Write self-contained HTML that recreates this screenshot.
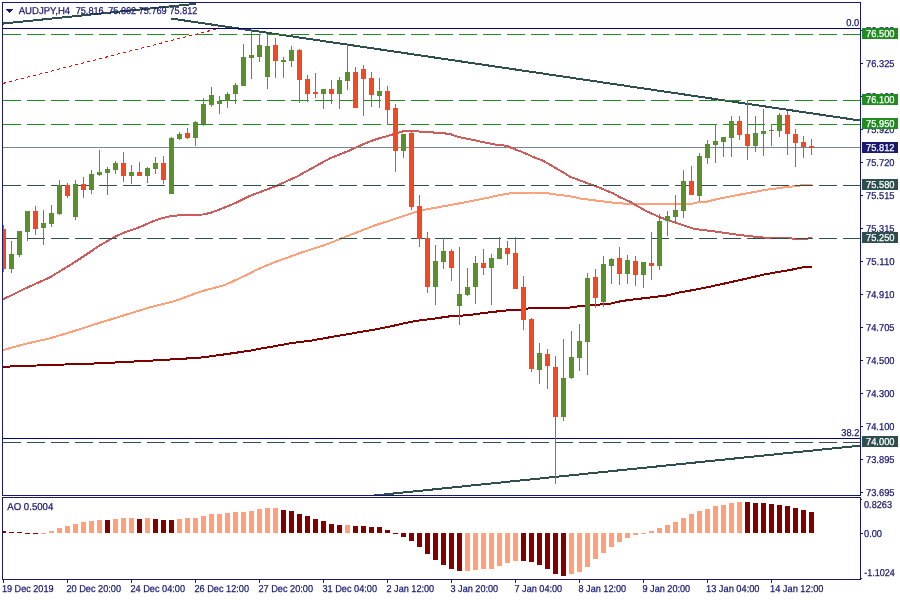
<!DOCTYPE html>
<html><head><meta charset="utf-8"><title>AUDJPY,H4</title>
<style>
html,body{margin:0;padding:0;background:#fff;overflow:hidden}
svg{display:block}
text{font-family:"Liberation Sans",sans-serif;font-size:10px;fill:#191970;stroke:#191970;stroke-width:0.25px;text-rendering:geometricPrecision}
.w{fill:#fff}
</style></head><body>
<svg width="900" height="600" viewBox="0 0 900 600">
<rect width="900" height="600" fill="#fff"/>
<defs><clipPath id="c"><rect x="3" y="3" width="857" height="492"/></clipPath><clipPath id="c2"><rect x="3" y="498" width="857" height="81"/></clipPath></defs>
<g shape-rendering="crispEdges">
<g clip-path="url(#c)">
<line x1="3" y1="147.5" x2="860" y2="147.5" stroke="#778899" stroke-width="1"/>
<polyline fill="none" stroke="#800000" stroke-width="2" stroke-linejoin="round" points="2,366.8 50,365 100,363.3 150,360.7 200,357.7 225,354.3 250,350.7 260,348.7 276.7,345.8 293.3,342.8 310,340.8 326.7,337.8 343.3,335 360,332 376.7,329.2 393.3,325.8 400,324.2 416.7,320.8 433.3,318.7 450,316.3 466.7,315.3 475,314.2 491.7,312 508.3,310.3 521.7,309.7 533.3,307.5 550,307.5 560,308 570,307.5 581.7,305.8 593.3,305 610,303.8 616.7,302 626.7,300.3 643.3,298.3 660,296.3 668.3,295.3 676.7,293 693.3,290 710,286.7 730,282.3 747,278.5 763.3,274.7 775,272.5 791.7,269.7 803.3,267.2 812,266.7"/>
<polyline fill="none" stroke="#ffa07a" stroke-width="2" stroke-linejoin="round" points="2,350.3 25,344 50,338.3 75,330.7 100,322.7 125,315 150,307.3 175,301 200,291.7 225,285 250,273.3 256.7,269.7 275,262 290,256.7 300,253 325,245 350,235 375,225.3 400,217.2 416.7,211.7 426.7,209.3 436.7,207.5 453.3,204.5 470,201.3 486.7,198 500,195 510,193.3 520,192.5 533.3,192.5 545,192.8 553.3,194.2 561.7,195.3 570,196.2 580,198.5 597,200.7 613,202.6 620,203.3 630,204 645,204.2 690,204.2 700,201.9 706.7,201.7 716.7,199.2 733.3,195.8 750,192.8 766.7,189.7 783.3,187.5 800,185.5 812,184.5"/>
<polyline fill="none" stroke="#cd5c5c" stroke-width="2" stroke-linejoin="round" points="2,299.8 25,288.6 50,277.3 75,262 100,245.3 116.7,235.8 125,232.3 140,227 150,222.5 160,218.7 170,216.2 180,215.2 190,214.7 203.3,214.5 211.7,212.5 223.3,208 236.7,202.5 250,195.8 263.3,190.8 276.7,185.8 290,179.7 296.7,176.7 313.3,167.5 330,158.3 346.7,151.7 355,148 363.3,144.2 371.7,140.8 380,138 388.3,135.8 396.7,133.3 405,130.8 413.3,130.7 420,131.7 428.3,132.2 441.7,133 450.8,134.2 458.3,137 470,139.2 483.3,142.2 495,144.5 506.7,145.8 513.3,148.7 523.3,152.5 533.3,157 543.3,160.8 553.3,166.7 563.3,172.5 570,176.7 583.3,181.7 597,186.7 613,193.3 620,197.3 630,201.7 645,210.5 660,217.3 680,224.2 692,228.3 700,229.7 716.7,231.7 733.3,234.2 750,236.2 763.3,237.5 783.3,238 795,238.7 806.7,238.7 812,237.8"/>
<line x1="171" y1="18.5" x2="860" y2="120.5" stroke="#2f4f4f" stroke-width="2"/>
<line x1="2" y1="23.66" x2="196" y2="3.75" stroke="#2f4f4f" stroke-width="2"/>
<line x1="339.3" y1="499.06" x2="860" y2="445.64" stroke="#2f4f4f" stroke-width="2"/>
<line x1="3" y1="28.5" x2="860" y2="28.5" stroke="#000080" stroke-width="1"/>
<line x1="3" y1="438.5" x2="860" y2="438.5" stroke="#000080" stroke-width="1"/>
<line x1="3" y1="34.5" x2="860" y2="34.5" stroke="#228b22" stroke-width="1" stroke-dasharray="18 6"/>
<line x1="3" y1="100.5" x2="860" y2="100.5" stroke="#228b22" stroke-width="1" stroke-dasharray="18 6"/>
<line x1="3" y1="124.5" x2="860" y2="124.5" stroke="#228b22" stroke-width="1" stroke-dasharray="18 6"/>
<line x1="3" y1="185.5" x2="860" y2="185.5" stroke="#2f4f4f" stroke-width="1" stroke-dasharray="18 6"/>
<line x1="3" y1="238.5" x2="860" y2="238.5" stroke="#2f4f4f" stroke-width="1" stroke-dasharray="18 6"/>
<line x1="3" y1="442.5" x2="860" y2="442.5" stroke="#2f4f4f" stroke-width="1" stroke-dasharray="18 6"/>
<line x1="3" y1="83.4" x2="216" y2="29.1" stroke="#ff0000" stroke-width="1" stroke-dasharray="3.096 3.096"/>
<path fill="#f04a24" d="M3 225h1v47h-1zM1 229h5v40h-5z"/>
<path fill="#5a8f2d" d="M11 241h1v32h-1zM9 254h5v15h-5z"/>
<path fill="#5a8f2d" d="M19 231h1v26h-1zM17 231h5v24h-5z"/>
<path fill="#5a8f2d" d="M27 211h1v30h-1zM25 211h5v21h-5z"/>
<path fill="#f04a24" d="M35 206h1v29h-1zM33 211h5v18h-5z"/>
<path fill="#5a8f2d" d="M43 210h1v35h-1zM41 223h5v5h-5z"/>
<path fill="#5a8f2d" d="M51 205h1v22h-1zM49 213h5v11h-5z"/>
<path fill="#5a8f2d" d="M59 180h1v35h-1zM57 185h5v29h-5z"/>
<path fill="#f04a24" d="M67 183h1v15h-1zM65 185h5v11h-5z"/>
<path fill="#5a8f2d" d="M75 180h1v40h-1zM73 184h5v33h-5z"/>
<path fill="#f04a24" d="M83 177h1v21h-1zM81 184h5v6h-5z"/>
<path fill="#5a8f2d" d="M91 170h1v24h-1zM89 174h5v16h-5z"/>
<path fill="#5a8f2d" d="M99 150h1v26h-1zM97 172h5v3h-5z"/>
<path fill="#5a8f2d" d="M107 167h1v28h-1zM105 169h5v4h-5z"/>
<path fill="#5a8f2d" d="M115 161h1v13h-1zM113 163h5v7h-5z"/>
<path fill="#f04a24" d="M123 152h1v30h-1zM121 163h5v13h-5z"/>
<path fill="#5a8f2d" d="M131 165h1v19h-1zM129 172h5v4h-5z"/>
<path fill="#f04a24" d="M139 162h1v14h-1zM137 172h5v4h-5z"/>
<path fill="#5a8f2d" d="M147 167h1v16h-1zM145 168h5v8h-5z"/>
<path fill="#5a8f2d" d="M155 157h1v17h-1zM153 163h5v6h-5z"/>
<path fill="#f04a24" d="M163 156h1v28h-1zM161 163h5v17h-5z"/>
<path fill="#5a8f2d" d="M171 137h1v57h-1zM169 138h5v56h-5z"/>
<path fill="#5a8f2d" d="M179 132h1v8h-1zM177 134h5v5h-5z"/>
<path fill="#f04a24" d="M187 128h1v11h-1zM185 133h5v5h-5z"/>
<path fill="#5a8f2d" d="M195 121h1v25h-1zM193 122h5v16h-5z"/>
<path fill="#5a8f2d" d="M203 98h1v28h-1zM201 104h5v20h-5z"/>
<path fill="#5a8f2d" d="M211 87h1v20h-1zM209 95h5v10h-5z"/>
<path fill="#5a8f2d" d="M219 96h1v18h-1zM217 101h5v3h-5z"/>
<path fill="#5a8f2d" d="M227 92h1v16h-1zM225 94h5v7h-5z"/>
<path fill="#5a8f2d" d="M235 83h1v21h-1zM233 85h5v9h-5z"/>
<path fill="#5a8f2d" d="M243 44h1v42h-1zM241 57h5v29h-5z"/>
<path fill="#5a8f2d" d="M251 28h1v51h-1zM249 55h5v3h-5z"/>
<path fill="#5a8f2d" d="M259 34h1v28h-1zM257 45h5v12h-5z"/>
<path fill="#5a8f2d" d="M267 34h1v55h-1zM265 46h5v31h-5z"/>
<path fill="#f04a24" d="M275 38h1v40h-1zM273 45h5v16h-5z"/>
<path fill="#5a8f2d" d="M283 57h1v21h-1zM281 60h5v2h-5z"/>
<path fill="#5a8f2d" d="M291 46h1v21h-1zM289 50h5v11h-5z"/>
<path fill="#f04a24" d="M299 49h1v54h-1zM297 50h5v30h-5z"/>
<path fill="#f04a24" d="M307 75h1v27h-1zM305 79h5v15h-5z"/>
<path fill="#f04a24" d="M315 73h1v25h-1zM313 92h5v2h-5z"/>
<path fill="#5a8f2d" d="M323 89h1v20h-1zM321 89h5v5h-5z"/>
<path fill="#f04a24" d="M331 80h1v24h-1zM329 89h5v5h-5z"/>
<path fill="#5a8f2d" d="M339 77h1v32h-1zM337 80h5v14h-5z"/>
<path fill="#5a8f2d" d="M347 45h1v45h-1zM345 72h5v9h-5z"/>
<path fill="#f04a24" d="M355 67h1v41h-1zM353 72h5v36h-5z"/>
<path fill="#f04a24" d="M363 65h1v51h-1zM361 69h5v10h-5z"/>
<path fill="#f04a24" d="M371 72h1v35h-1zM369 78h5v17h-5z"/>
<path fill="#5a8f2d" d="M379 78h1v30h-1zM377 91h5v5h-5z"/>
<path fill="#f04a24" d="M387 86h1v39h-1zM385 91h5v19h-5z"/>
<path fill="#f04a24" d="M395 104h1v68h-1zM393 108h5v43h-5z"/>
<path fill="#5a8f2d" d="M403 134h1v24h-1zM401 134h5v17h-5z"/>
<path fill="#f04a24" d="M411 132h1v78h-1zM409 133h5v74h-5z"/>
<path fill="#f04a24" d="M419 195h1v52h-1zM417 206h5v33h-5z"/>
<path fill="#f04a24" d="M427 232h1v61h-1zM425 238h5v49h-5z"/>
<path fill="#5a8f2d" d="M435 245h1v60h-1zM433 261h5v26h-5z"/>
<path fill="#5a8f2d" d="M443 238h1v31h-1zM441 251h5v11h-5z"/>
<path fill="#f04a24" d="M451 249h1v32h-1zM449 251h5v17h-5z"/>
<path fill="#5a8f2d" d="M459 247h1v78h-1zM457 294h5v12h-5z"/>
<path fill="#5a8f2d" d="M467 268h1v28h-1zM465 287h5v8h-5z"/>
<path fill="#5a8f2d" d="M475 256h1v48h-1zM473 263h5v24h-5z"/>
<path fill="#f04a24" d="M483 249h1v26h-1zM481 263h5v5h-5z"/>
<path fill="#5a8f2d" d="M491 254h1v51h-1zM489 258h5v10h-5z"/>
<path fill="#5a8f2d" d="M499 237h1v22h-1zM497 248h5v11h-5z"/>
<path fill="#f04a24" d="M507 241h1v24h-1zM505 248h5v6h-5z"/>
<path fill="#f04a24" d="M515 237h1v52h-1zM513 253h5v36h-5z"/>
<path fill="#f04a24" d="M523 276h1v54h-1zM521 287h5v33h-5z"/>
<path fill="#f04a24" d="M531 318h1v54h-1zM529 319h5v50h-5z"/>
<path fill="#5a8f2d" d="M539 343h1v41h-1zM537 353h5v17h-5z"/>
<path fill="#f04a24" d="M547 349h1v40h-1zM545 354h5v12h-5z"/>
<path fill="#f04a24" d="M555 356h1v128h-1zM553 367h5v50h-5z"/>
<path fill="#5a8f2d" d="M563 339h1v82h-1zM561 378h5v39h-5z"/>
<path fill="#5a8f2d" d="M571 331h1v48h-1zM569 357h5v21h-5z"/>
<path fill="#5a8f2d" d="M579 324h1v47h-1zM577 341h5v17h-5z"/>
<path fill="#5a8f2d" d="M587 273h1v102h-1zM585 278h5v64h-5z"/>
<path fill="#f04a24" d="M595 269h1v39h-1zM593 277h5v21h-5z"/>
<path fill="#5a8f2d" d="M603 256h1v51h-1zM601 264h5v38h-5z"/>
<path fill="#5a8f2d" d="M611 258h1v26h-1zM609 259h5v7h-5z"/>
<path fill="#f04a24" d="M619 247h1v38h-1zM617 258h5v16h-5z"/>
<path fill="#5a8f2d" d="M627 255h1v29h-1zM625 260h5v14h-5z"/>
<path fill="#f04a24" d="M635 256h1v30h-1zM633 261h5v14h-5z"/>
<path fill="#5a8f2d" d="M643 262h1v26h-1zM641 262h5v13h-5z"/>
<path fill="#f04a24" d="M651 232h1v48h-1zM649 263h5v3h-5z"/>
<path fill="#5a8f2d" d="M659 214h1v56h-1zM657 221h5v45h-5z"/>
<path fill="#5a8f2d" d="M667 211h1v25h-1zM665 216h5v5h-5z"/>
<path fill="#5a8f2d" d="M675 195h1v28h-1zM673 210h5v7h-5z"/>
<path fill="#5a8f2d" d="M683 170h1v48h-1zM681 181h5v30h-5z"/>
<path fill="#f04a24" d="M691 166h1v29h-1zM689 181h5v14h-5z"/>
<path fill="#5a8f2d" d="M699 153h1v48h-1zM697 156h5v40h-5z"/>
<path fill="#5a8f2d" d="M707 140h1v24h-1zM705 144h5v14h-5z"/>
<path fill="#5a8f2d" d="M715 124h1v39h-1zM713 141h5v4h-5z"/>
<path fill="#5a8f2d" d="M723 137h1v20h-1zM721 137h5v5h-5z"/>
<path fill="#5a8f2d" d="M731 116h1v41h-1zM729 121h5v17h-5z"/>
<path fill="#f04a24" d="M739 116h1v24h-1zM737 121h5v14h-5z"/>
<path fill="#f04a24" d="M747 100h1v60h-1zM745 134h5v12h-5z"/>
<path fill="#5a8f2d" d="M755 116h1v36h-1zM753 133h5v13h-5z"/>
<path fill="#5a8f2d" d="M763 109h1v47h-1zM761 131h5v3h-5z"/>
<path fill="#5a8f2d" d="M771 124h1v22h-1zM769 130h5v1h-5z"/>
<path fill="#5a8f2d" d="M779 113h1v24h-1zM777 115h5v16h-5z"/>
<path fill="#f04a24" d="M787 111h1v44h-1zM785 115h5v19h-5z"/>
<path fill="#f04a24" d="M795 129h1v38h-1zM793 134h5v9h-5z"/>
<path fill="#f04a24" d="M803 136h1v22h-1zM801 142h5v5h-5z"/>
<path fill="#f04a24" d="M811 139h1v16h-1zM809 146h5v2h-5z"/>
</g>
<g clip-path="url(#c2)">
<rect x="1" y="531" width="5" height="2" fill="#800000"/>
<rect x="9" y="532" width="5" height="1" fill="#800000"/>
<rect x="17" y="532" width="5" height="1" fill="#800000"/>
<rect x="25" y="533" width="5" height="1" fill="#800000"/>
<rect x="33" y="533" width="5" height="1" fill="#800000"/>
<rect x="41" y="533" width="5" height="1" fill="#ffa07a"/>
<rect x="49" y="531" width="5" height="2" fill="#ffa07a"/>
<rect x="57" y="528" width="5" height="5" fill="#ffa07a"/>
<rect x="65" y="526" width="5" height="7" fill="#ffa07a"/>
<rect x="73" y="524" width="5" height="9" fill="#ffa07a"/>
<rect x="81" y="522" width="5" height="11" fill="#ffa07a"/>
<rect x="89" y="521" width="5" height="12" fill="#ffa07a"/>
<rect x="97" y="520" width="5" height="13" fill="#ffa07a"/>
<rect x="105" y="520" width="5" height="13" fill="#800000"/>
<rect x="113" y="519" width="5" height="14" fill="#ffa07a"/>
<rect x="121" y="518" width="5" height="15" fill="#ffa07a"/>
<rect x="129" y="518" width="5" height="15" fill="#ffa07a"/>
<rect x="137" y="519" width="5" height="14" fill="#800000"/>
<rect x="145" y="518" width="5" height="15" fill="#ffa07a"/>
<rect x="153" y="519" width="5" height="14" fill="#800000"/>
<rect x="161" y="520" width="5" height="13" fill="#800000"/>
<rect x="169" y="520" width="5" height="13" fill="#800000"/>
<rect x="177" y="519" width="5" height="14" fill="#ffa07a"/>
<rect x="185" y="518" width="5" height="15" fill="#ffa07a"/>
<rect x="193" y="518" width="5" height="15" fill="#ffa07a"/>
<rect x="201" y="516" width="5" height="17" fill="#ffa07a"/>
<rect x="209" y="514" width="5" height="19" fill="#ffa07a"/>
<rect x="217" y="514" width="5" height="19" fill="#ffa07a"/>
<rect x="225" y="513" width="5" height="20" fill="#ffa07a"/>
<rect x="233" y="512" width="5" height="21" fill="#ffa07a"/>
<rect x="241" y="512" width="5" height="21" fill="#ffa07a"/>
<rect x="249" y="511" width="5" height="22" fill="#ffa07a"/>
<rect x="257" y="509" width="5" height="24" fill="#ffa07a"/>
<rect x="265" y="508" width="5" height="25" fill="#ffa07a"/>
<rect x="273" y="508" width="5" height="25" fill="#ffa07a"/>
<rect x="281" y="510" width="5" height="23" fill="#800000"/>
<rect x="289" y="511" width="5" height="22" fill="#800000"/>
<rect x="297" y="514" width="5" height="19" fill="#800000"/>
<rect x="305" y="516" width="5" height="17" fill="#800000"/>
<rect x="313" y="519" width="5" height="14" fill="#800000"/>
<rect x="321" y="521" width="5" height="12" fill="#800000"/>
<rect x="329" y="524" width="5" height="9" fill="#800000"/>
<rect x="337" y="525" width="5" height="8" fill="#800000"/>
<rect x="345" y="525" width="5" height="8" fill="#ffa07a"/>
<rect x="353" y="526" width="5" height="7" fill="#800000"/>
<rect x="361" y="526" width="5" height="7" fill="#800000"/>
<rect x="369" y="527" width="5" height="6" fill="#800000"/>
<rect x="377" y="527" width="5" height="6" fill="#800000"/>
<rect x="385" y="530" width="5" height="3" fill="#800000"/>
<rect x="393" y="533" width="5" height="1" fill="#800000"/>
<rect x="401" y="533" width="5" height="4" fill="#800000"/>
<rect x="409" y="533" width="5" height="8" fill="#800000"/>
<rect x="417" y="533" width="5" height="14" fill="#800000"/>
<rect x="425" y="533" width="5" height="21" fill="#800000"/>
<rect x="433" y="533" width="5" height="27" fill="#800000"/>
<rect x="441" y="533" width="5" height="32" fill="#800000"/>
<rect x="449" y="533" width="5" height="36" fill="#800000"/>
<rect x="457" y="533" width="5" height="38" fill="#800000"/>
<rect x="465" y="533" width="5" height="38" fill="#ffa07a"/>
<rect x="473" y="533" width="5" height="37" fill="#ffa07a"/>
<rect x="481" y="533" width="5" height="36" fill="#ffa07a"/>
<rect x="489" y="533" width="5" height="36" fill="#ffa07a"/>
<rect x="497" y="533" width="5" height="33" fill="#ffa07a"/>
<rect x="505" y="533" width="5" height="30" fill="#ffa07a"/>
<rect x="513" y="533" width="5" height="28" fill="#ffa07a"/>
<rect x="521" y="533" width="5" height="28" fill="#800000"/>
<rect x="529" y="533" width="5" height="29" fill="#800000"/>
<rect x="537" y="533" width="5" height="32" fill="#800000"/>
<rect x="545" y="533" width="5" height="36" fill="#800000"/>
<rect x="553" y="533" width="5" height="41" fill="#800000"/>
<rect x="561" y="533" width="5" height="43" fill="#800000"/>
<rect x="569" y="533" width="5" height="41" fill="#ffa07a"/>
<rect x="577" y="533" width="5" height="39" fill="#ffa07a"/>
<rect x="585" y="533" width="5" height="34" fill="#ffa07a"/>
<rect x="593" y="533" width="5" height="26" fill="#ffa07a"/>
<rect x="601" y="533" width="5" height="20" fill="#ffa07a"/>
<rect x="609" y="533" width="5" height="14" fill="#ffa07a"/>
<rect x="617" y="533" width="5" height="9" fill="#ffa07a"/>
<rect x="625" y="533" width="5" height="5" fill="#ffa07a"/>
<rect x="633" y="533" width="5" height="2" fill="#ffa07a"/>
<rect x="641" y="533" width="5" height="1" fill="#ffa07a"/>
<rect x="649" y="531" width="5" height="2" fill="#ffa07a"/>
<rect x="657" y="528" width="5" height="5" fill="#ffa07a"/>
<rect x="665" y="525" width="5" height="8" fill="#ffa07a"/>
<rect x="673" y="522" width="5" height="11" fill="#ffa07a"/>
<rect x="681" y="518" width="5" height="15" fill="#ffa07a"/>
<rect x="689" y="514" width="5" height="19" fill="#ffa07a"/>
<rect x="697" y="511" width="5" height="22" fill="#ffa07a"/>
<rect x="705" y="509" width="5" height="24" fill="#ffa07a"/>
<rect x="713" y="506" width="5" height="27" fill="#ffa07a"/>
<rect x="721" y="505" width="5" height="28" fill="#ffa07a"/>
<rect x="729" y="503" width="5" height="30" fill="#ffa07a"/>
<rect x="737" y="502" width="5" height="31" fill="#ffa07a"/>
<rect x="745" y="502" width="5" height="31" fill="#800000"/>
<rect x="753" y="503" width="5" height="30" fill="#800000"/>
<rect x="761" y="503" width="5" height="30" fill="#800000"/>
<rect x="769" y="504" width="5" height="29" fill="#800000"/>
<rect x="777" y="505" width="5" height="28" fill="#800000"/>
<rect x="785" y="506" width="5" height="27" fill="#800000"/>
<rect x="793" y="508" width="5" height="25" fill="#800000"/>
<rect x="801" y="510" width="5" height="23" fill="#800000"/>
<rect x="809" y="512" width="5" height="21" fill="#800000"/>
</g>
<line x1="2.5" y1="2" x2="2.5" y2="496" stroke="#191970" stroke-width="1"/>
<line x1="2.5" y1="497" x2="2.5" y2="580" stroke="#191970" stroke-width="1"/>
<line x1="860.5" y1="2" x2="860.5" y2="496" stroke="#191970" stroke-width="1"/>
<line x1="860.5" y1="497" x2="860.5" y2="580" stroke="#191970" stroke-width="1"/>
<line x1="861" y1="499.5" x2="862" y2="499.5" stroke="#191970" stroke-width="1"/>
<line x1="861" y1="578.5" x2="862" y2="578.5" stroke="#191970" stroke-width="1"/>
<line x1="2" y1="2.5" x2="861" y2="2.5" stroke="#191970" stroke-width="1"/>
<line x1="2" y1="495.5" x2="861" y2="495.5" stroke="#191970" stroke-width="1"/>
<line x1="2" y1="497.5" x2="861" y2="497.5" stroke="#191970" stroke-width="1"/>
<line x1="2" y1="579.5" x2="861" y2="579.5" stroke="#191970" stroke-width="1"/>
<line x1="861" y1="30.5" x2="863" y2="30.5" stroke="#191970" stroke-width="1"/>
<line x1="861" y1="63.5" x2="863" y2="63.5" stroke="#191970" stroke-width="1"/>
<line x1="861" y1="96.5" x2="863" y2="96.5" stroke="#191970" stroke-width="1"/>
<line x1="861" y1="129.5" x2="863" y2="129.5" stroke="#191970" stroke-width="1"/>
<line x1="861" y1="162.5" x2="863" y2="162.5" stroke="#191970" stroke-width="1"/>
<line x1="861" y1="195.5" x2="863" y2="195.5" stroke="#191970" stroke-width="1"/>
<line x1="861" y1="228.5" x2="863" y2="228.5" stroke="#191970" stroke-width="1"/>
<line x1="861" y1="261.5" x2="863" y2="261.5" stroke="#191970" stroke-width="1"/>
<line x1="861" y1="294.5" x2="863" y2="294.5" stroke="#191970" stroke-width="1"/>
<line x1="861" y1="327.5" x2="863" y2="327.5" stroke="#191970" stroke-width="1"/>
<line x1="861" y1="360.5" x2="863" y2="360.5" stroke="#191970" stroke-width="1"/>
<line x1="861" y1="393.5" x2="863" y2="393.5" stroke="#191970" stroke-width="1"/>
<line x1="861" y1="426.5" x2="863" y2="426.5" stroke="#191970" stroke-width="1"/>
<line x1="861" y1="459.5" x2="863" y2="459.5" stroke="#191970" stroke-width="1"/>
<line x1="861" y1="492.5" x2="863" y2="492.5" stroke="#191970" stroke-width="1"/>
<line x1="861" y1="533.5" x2="863" y2="533.5" stroke="#191970" stroke-width="1"/>
<line x1="3.5" y1="580" x2="3.5" y2="583" stroke="#191970" stroke-width="1"/>
<line x1="67.5" y1="580" x2="67.5" y2="583" stroke="#191970" stroke-width="1"/>
<line x1="131.5" y1="580" x2="131.5" y2="583" stroke="#191970" stroke-width="1"/>
<line x1="195.5" y1="580" x2="195.5" y2="583" stroke="#191970" stroke-width="1"/>
<line x1="259.5" y1="580" x2="259.5" y2="583" stroke="#191970" stroke-width="1"/>
<line x1="323.5" y1="580" x2="323.5" y2="583" stroke="#191970" stroke-width="1"/>
<line x1="387.5" y1="580" x2="387.5" y2="583" stroke="#191970" stroke-width="1"/>
<line x1="451.5" y1="580" x2="451.5" y2="583" stroke="#191970" stroke-width="1"/>
<line x1="515.5" y1="580" x2="515.5" y2="583" stroke="#191970" stroke-width="1"/>
<line x1="579.5" y1="580" x2="579.5" y2="583" stroke="#191970" stroke-width="1"/>
<line x1="643.5" y1="580" x2="643.5" y2="583" stroke="#191970" stroke-width="1"/>
<line x1="707.5" y1="580" x2="707.5" y2="583" stroke="#191970" stroke-width="1"/>
<line x1="771.5" y1="580" x2="771.5" y2="583" stroke="#191970" stroke-width="1"/>
<path fill="#191970" d="M6 9h7v1h-7zM7 10h5v1h-5zM8 11h3v1h-3zM9 12h1v1h-1z"/>
</g>
<text x="18.7" y="14" textLength="51.5" lengthAdjust="spacingAndGlyphs">AUDJPY,H4</text>
<text x="75.7" y="14" textLength="28" lengthAdjust="spacingAndGlyphs">75.816</text>
<text x="108.2" y="14" textLength="28" lengthAdjust="spacingAndGlyphs">75.862</text>
<text x="138.7" y="14" textLength="28" lengthAdjust="spacingAndGlyphs">75.769</text>
<text x="169.5" y="14" textLength="27.8" lengthAdjust="spacingAndGlyphs">75.812</text>
<text x="846.3" y="26" textLength="13" lengthAdjust="spacingAndGlyphs">0.0</text>
<text x="841.3" y="436" textLength="18" lengthAdjust="spacingAndGlyphs">38.2</text>
<text x="7.3" y="510" textLength="46" lengthAdjust="spacingAndGlyphs">AO 0.5004</text>
<text x="866" y="34" textLength="28.5" lengthAdjust="spacingAndGlyphs">76.530</text>
<text x="866" y="67" textLength="28.5" lengthAdjust="spacingAndGlyphs">76.325</text>
<text x="866" y="100" textLength="28.5" lengthAdjust="spacingAndGlyphs">76.120</text>
<text x="866" y="133" textLength="28.5" lengthAdjust="spacingAndGlyphs">75.920</text>
<text x="866" y="166" textLength="28.5" lengthAdjust="spacingAndGlyphs">75.720</text>
<text x="866" y="199" textLength="28.5" lengthAdjust="spacingAndGlyphs">75.515</text>
<text x="866" y="232" textLength="28.5" lengthAdjust="spacingAndGlyphs">75.315</text>
<text x="866" y="265" textLength="28.5" lengthAdjust="spacingAndGlyphs">75.110</text>
<text x="866" y="298" textLength="28.5" lengthAdjust="spacingAndGlyphs">74.910</text>
<text x="866" y="331" textLength="28.5" lengthAdjust="spacingAndGlyphs">74.705</text>
<text x="866" y="364" textLength="28.5" lengthAdjust="spacingAndGlyphs">74.500</text>
<text x="866" y="397" textLength="28.5" lengthAdjust="spacingAndGlyphs">74.300</text>
<text x="866" y="430" textLength="28.5" lengthAdjust="spacingAndGlyphs">74.100</text>
<text x="866" y="463" textLength="28.5" lengthAdjust="spacingAndGlyphs">73.895</text>
<text x="866" y="496" textLength="28.5" lengthAdjust="spacingAndGlyphs">73.695</text>
<text x="864" y="508" textLength="28" lengthAdjust="spacingAndGlyphs">0.8263</text>
<text x="864" y="537" textLength="18" lengthAdjust="spacingAndGlyphs">0.00</text>
<text x="864.2" y="576" textLength="30.7" lengthAdjust="spacingAndGlyphs">-1.1024</text>
<text x="2" y="592" textLength="51.5" lengthAdjust="spacingAndGlyphs">19 Dec 2019</text>
<text x="66.5" y="592" textLength="54.5" lengthAdjust="spacingAndGlyphs">20 Dec 20:00</text>
<text x="130.5" y="592" textLength="54.5" lengthAdjust="spacingAndGlyphs">24 Dec 04:00</text>
<text x="194.5" y="592" textLength="54.5" lengthAdjust="spacingAndGlyphs">26 Dec 12:00</text>
<text x="258.5" y="592" textLength="54.5" lengthAdjust="spacingAndGlyphs">27 Dec 20:00</text>
<text x="322.5" y="592" textLength="54.5" lengthAdjust="spacingAndGlyphs">31 Dec 04:00</text>
<text x="386.5" y="592" textLength="47.7" lengthAdjust="spacingAndGlyphs">2 Jan 12:00</text>
<text x="450.5" y="592" textLength="47.7" lengthAdjust="spacingAndGlyphs">3 Jan 20:00</text>
<text x="514.5" y="592" textLength="47.7" lengthAdjust="spacingAndGlyphs">7 Jan 04:00</text>
<text x="578.5" y="592" textLength="47.7" lengthAdjust="spacingAndGlyphs">8 Jan 12:00</text>
<text x="642.5" y="592" textLength="47.7" lengthAdjust="spacingAndGlyphs">9 Jan 20:00</text>
<text x="706" y="592" textLength="53.5" lengthAdjust="spacingAndGlyphs">13 Jan 04:00</text>
<text x="770" y="592" textLength="53.5" lengthAdjust="spacingAndGlyphs">14 Jan 12:00</text>
<rect x="862" y="28" width="36" height="11" fill="#228b22" shape-rendering="crispEdges"/>
<text x="866" y="37" textLength="28.5" lengthAdjust="spacingAndGlyphs" style="fill:#fff;stroke:#fff">76.500</text>
<rect x="862" y="94" width="36" height="11" fill="#228b22" shape-rendering="crispEdges"/>
<text x="866" y="103" textLength="28.5" lengthAdjust="spacingAndGlyphs" style="fill:#fff;stroke:#fff">76.100</text>
<rect x="862" y="118" width="36" height="11" fill="#228b22" shape-rendering="crispEdges"/>
<text x="866" y="127" textLength="28.5" lengthAdjust="spacingAndGlyphs" style="fill:#fff;stroke:#fff">75.950</text>
<rect x="862" y="142" width="36" height="11" fill="#191970" shape-rendering="crispEdges"/>
<text x="866" y="151" textLength="28.5" lengthAdjust="spacingAndGlyphs" style="fill:#fff;stroke:#fff">75.812</text>
<rect x="862" y="179" width="36" height="11" fill="#2f4f4f" shape-rendering="crispEdges"/>
<text x="866" y="188" textLength="28.5" lengthAdjust="spacingAndGlyphs" style="fill:#fff;stroke:#fff">75.580</text>
<rect x="862" y="232" width="36" height="11" fill="#2f4f4f" shape-rendering="crispEdges"/>
<text x="866" y="241" textLength="28.5" lengthAdjust="spacingAndGlyphs" style="fill:#fff;stroke:#fff">75.250</text>
<rect x="862" y="436" width="36" height="11" fill="#2f4f4f" shape-rendering="crispEdges"/>
<text x="866" y="445" textLength="28.5" lengthAdjust="spacingAndGlyphs" style="fill:#fff;stroke:#fff">74.000</text>
</svg>
</body></html>
